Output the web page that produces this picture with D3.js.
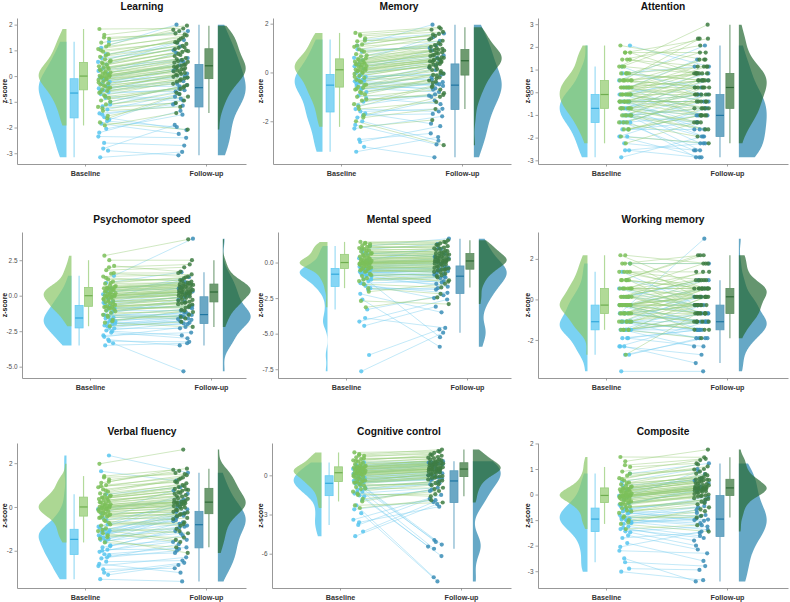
<!DOCTYPE html>
<html><head><meta charset="utf-8">
<script src="https://cdn.jsdelivr.net/npm/d3@7"></script>
<style>body{margin:0;background:#fff}svg{display:block}text{font-family:"Liberation Sans",Arial,Helvetica,sans-serif}</style>
</head><body><svg id="chart" width="790" height="602"></svg>
<script>
// ---------------- DATA (z-scores, paired per subject) ----------------
const timeLabels = ["Baseline", "Follow-up"];

const learningBlueBase = [-3.16,-2.9,-2.82,-2.35,-2.05,-1.85,-1.7,-1.6,-1.45,-1.3,-1.18,-1.0,-0.85,-0.7,-0.62,-0.55,-0.48,-0.4,-0.3,-0.22,-0.12,-0.05,0.1,0.3,0.55,0.85,1.1,1.33,
  -2.6,-2.2,-1.75,-1.5,-1.1,-0.78,-0.58,-0.35,-0.15,0.2,0.45,0.7];
const learningBlueFollow = [-2.95,-3.08,-1.9,-2.4,-1.5,-2.25,-0.8,-2.1,-1.15,-0.7,-1.05,-0.35,-0.95,-0.5,-0.6,0.1,-0.2,-0.4,0.3,-0.05,0.55,0.42,0.9,0.7,1.4,1.15,2.0,1.75,
  -2.7,-1.35,-1.98,-1.1,-0.55,-0.88,-0.3,0.2,0.0,0.6,1.3,1.0];
const learningGreenBase = [-1.92,-1.8,-1.55,-1.35,-1.2,-1.1,-0.95,-0.85,-0.75,-0.65,-0.58,-0.52,-0.45,-0.4,-0.33,-0.28,-0.2,-0.15,-0.1,-0.06,-0.02,-0.01,0.01,0.05,0.1,0.14,0.18,0.22,0.28,0.33,0.38,0.45,0.52,0.56,0.65,0.75,0.85,0.95,1.05,1.15,1.3,1.45,1.6,1.83,
  -1.65,-1.25,-1.0,-0.8,-0.62,-0.48,-0.36,-0.25,-0.12,-0.04,0.03,0.12,0.25,0.35,0.48,0.6,0.8,1.0,1.22,1.5];
const learningGreenFollow = [-1.44,-2.08,-0.95,-1.2,-0.65,-0.8,-0.4,-0.5,-0.22,-0.3,-0.09,-0.13,0.02,-0.03,0.12,0.08,0.22,0.18,0.31,0.27,0.39,0.36,0.46,0.41,0.58,0.52,0.7,0.63,0.86,0.78,1.0,0.94,1.1,1.05,1.25,1.18,1.4,1.32,1.58,1.5,1.75,1.66,1.96,1.85,
  -0.7,-1.05,-0.35,-0.45,-0.18,0.05,-0.06,0.25,0.15,0.33,0.55,0.44,0.82,0.66,0.97,1.12,1.45,1.3,1.8,1.62];

const memoryBlueBase = [-3.25,-3.05,-2.75,-2.3,-2.0,-1.85,-1.68,-1.6,-1.5,-1.2,-0.95,-0.8,-0.65,-0.55,-0.49,-0.42,-0.36,-0.3,-0.25,-0.18,-0.1,-0.02,0.15,0.35,0.6,0.85,1.1,1.35,
  -2.85,-2.15,-1.75,-1.35,-1.05,-0.7,-0.45,-0.33,-0.15,0.25,0.5,0.95];
const memoryBlueFollow = [-2.65,-3.48,-2.5,-1.8,-2.8,-1.15,-2.1,-1.49,-1.6,-0.9,-1.0,-0.4,-0.8,-0.65,-0.2,-0.55,-0.49,0.1,-0.3,-0.05,0.5,0.3,0.9,0.7,1.3,1.1,1.96,1.6,
  -2.2,-2.95,-1.7,-0.95,-1.3,-0.45,-0.7,0.2,-0.1,0.6,1.45,1.0];
const memoryGreenBase = [-2.23,-2.0,-1.75,-1.5,-1.3,-1.15,-1.0,-0.9,-0.8,-0.7,-0.63,-0.59,-0.5,-0.4,-0.3,-0.22,-0.14,-0.06,0.0,0.05,0.09,0.1,0.12,0.17,0.22,0.26,0.3,0.33,0.36,0.4,0.44,0.5,0.55,0.58,0.66,0.75,0.85,0.95,1.05,1.15,1.28,1.4,1.5,1.62,
  -1.85,-1.4,-1.1,-0.85,-0.68,-0.52,-0.35,-0.18,-0.02,0.07,0.15,0.24,0.34,0.42,0.52,0.7,0.9,1.1,1.3,1.55];
const memoryGreenFollow = [-1.95,-2.98,-1.0,-1.21,-0.55,-0.85,-0.7,-0.25,-0.42,-0.33,-0.02,-0.13,-0.1,0.2,0.06,0.14,0.32,0.26,0.42,0.37,0.49,0.46,0.47,0.58,0.53,0.67,0.62,0.77,0.72,0.88,0.82,0.93,0.92,1.05,0.97,1.2,1.12,1.4,1.3,1.58,1.5,1.75,1.66,1.85,
  -1.5,-0.6,-0.92,-0.2,-0.38,0.1,-0.05,0.35,0.24,0.44,0.6,0.52,0.8,0.7,0.9,1.15,1.0,1.55,1.35,1.8];

const attentionBlueBase = [-2.87,-2.56,-2.25,-1.95,-1.95,-1.64,-1.33,-1.33,-1.33,-1.02,-1.02,-1.02,-0.71,-0.71,-0.71,-0.71,-0.41,-0.41,-0.41,-0.10,-0.10,-0.10,0.21,0.21,0.52,0.83,1.13,2.06,
  -2.56,-1.95,-1.64,-1.33,-1.02,-1.02,-0.71,-0.41,-0.41,-0.10,0.21,0.83];
const attentionBlueFollow = [-1.95,-2.87,-2.56,-0.71,-2.25,-1.64,-2.87,-1.02,-0.41,-2.56,-1.33,-0.10,-1.95,-2.25,-1.02,0.52,-1.64,-0.10,-1.33,0.83,-0.71,-1.02,1.44,-0.41,2.06,0.21,-0.10,1.13,
  -2.25,-2.87,-1.33,-2.56,-0.71,-1.95,-0.10,-1.64,-0.41,0.52,-1.02,1.13];
const attentionGreenBase = [-2.25,-1.95,-1.64,-1.64,-1.33,-1.33,-1.02,-1.02,-1.02,-0.71,-0.71,-0.71,-0.71,-0.41,-0.41,-0.41,-0.41,-0.41,-0.10,-0.10,-0.10,-0.10,-0.10,-0.10,0.21,0.21,0.21,0.21,0.21,0.52,0.52,0.52,0.52,0.52,0.83,0.83,0.83,1.13,1.13,1.44,1.44,1.75,1.75,2.06,
  -1.64,-1.33,-1.02,-1.02,-0.71,-0.71,-0.41,-0.41,-0.41,-0.10,-0.10,0.21,0.21,0.21,0.52,0.52,0.83,1.13,1.44,1.75];
const attentionGreenFollow = [-1.33,-2.25,-0.71,-1.02,-1.95,-0.10,-1.64,-0.71,0.21,-1.33,-0.41,-1.02,0.52,-0.71,-0.10,0.83,-0.41,0.21,-1.02,0.21,0.52,-0.10,1.13,-0.71,0.83,0.21,-0.41,0.52,1.44,-0.10,0.83,0.21,2.36,0.83,1.13,0.52,1.75,0.83,2.98,1.13,2.06,0.83,2.36,1.44,
  -1.02,-0.41,-1.64,0.21,-1.33,-0.10,0.52,-1.02,-0.41,0.83,-0.71,0.52,-0.10,1.13,0.21,1.44,0.52,2.36,0.83,1.75];

const psychoBlueBase = [-3.5,-3.35,-3.1,-2.8,-2.6,-2.45,-2.3,-2.26,-2.1,-2.0,-1.9,-1.8,-1.7,-1.6,-1.54,-1.45,-1.35,-1.2,-1.05,-0.9,-0.72,-0.57,-0.4,-0.2,0.1,0.5,0.9,1.4,
  -3.2,-2.9,-2.5,-2.15,-1.95,-1.75,-1.4,-1.1,-0.85,-0.5,-0.1,0.3];
const psychoBlueFollow = [-3.35,-5.33,-3.5,-2.6,-3.0,-1.95,-2.3,-1.7,-2.0,-1.5,-1.8,-1.36,-1.6,-1.2,-1.42,-0.9,-1.3,-0.4,-1.05,-0.7,0.0,-0.1,0.6,0.3,1.3,0.95,1.66,4.02,
  -3.25,-2.2,-2.8,-1.65,-1.9,-1.15,-1.45,-0.3,-0.8,0.15,1.1,0.5];
const psychoGreenBase = [-2.15,-1.9,-1.7,-1.5,-1.35,-1.2,-1.05,-0.95,-0.88,-0.8,-0.77,-0.74,-0.65,-0.55,-0.45,-0.38,-0.3,-0.22,-0.15,-0.08,-0.03,-0.01,0.01,0.06,0.12,0.18,0.25,0.32,0.4,0.46,0.52,0.55,0.57,0.62,0.72,0.85,1.0,1.15,1.35,1.55,1.8,2.1,2.5,2.82,
  -1.8,-1.4,-1.1,-0.9,-0.78,-0.6,-0.42,-0.26,-0.12,-0.04,0.04,0.15,0.28,0.43,0.54,0.68,0.9,1.25,1.6,2.0];
const psychoGreenFollow = [-1.85,-2.2,-1.35,-1.6,-1.0,-1.15,-0.72,-0.85,-0.52,-0.6,-0.43,-0.46,-0.25,-0.35,-0.07,-0.15,0.06,0.0,0.17,0.12,0.25,0.22,0.32,0.27,0.44,0.38,0.56,0.5,0.68,0.62,0.79,0.74,0.85,0.81,1.0,0.92,1.22,1.1,1.5,1.35,2.0,1.7,2.5,3.97,
  -1.05,-1.5,-0.62,-0.8,-0.5,-0.1,-0.3,0.14,0.03,0.23,0.41,0.3,0.65,0.53,0.76,0.88,1.3,1.05,1.6,2.2];

const mentalBlueBase = [-7.65,-6.5,-4.45,-4.15,-3.3,-2.6,-1.8,-1.64,-1.45,-1.3,-1.15,-1.0,-0.9,-0.85,-0.79,-0.72,-0.65,-0.6,-0.55,-0.48,-0.44,-0.36,-0.2,0.0,0.3,0.6,0.9,1.17,
  -3.9,-2.2,-1.9,-1.5,-1.2,-0.95,-0.75,-0.62,-0.5,-0.3,0.15,0.7];
const mentalBlueFollow = [-4.93,-4.7,-3.1,-2.6,-2.3,-5.92,-1.9,-2.13,-1.3,-5.25,-1.5,-1.7,-0.8,-1.1,-0.92,-0.6,-1.0,-0.48,-0.7,-0.36,-0.28,-0.12,0.05,0.3,0.6,0.95,1.3,1.68,
  -4.6,-3.5,-1.8,-2.5,-1.05,-1.4,-0.55,-0.85,-0.4,-0.05,1.0,0.4];
const mentalGreenBase = [-3.15,-2.7,-2.05,-1.52,-1.3,-1.1,-0.95,-0.8,-0.65,-0.55,-0.45,-0.41,-0.35,-0.28,-0.22,-0.17,-0.12,-0.08,-0.05,-0.03,-0.02,-0.01,0.01,0.04,0.08,0.12,0.17,0.22,0.28,0.35,0.42,0.5,0.56,0.62,0.7,0.78,0.86,0.94,1.02,1.1,1.2,1.3,1.38,1.45,
  -1.8,-1.2,-0.88,-0.6,-0.48,-0.38,-0.25,-0.14,-0.07,-0.03,0.03,0.1,0.2,0.32,0.48,0.66,0.82,1.0,1.15,1.35];
const mentalGreenFollow = [-2.45,-2.92,-1.5,-1.75,-1.05,-1.25,-0.78,-0.9,-0.55,-0.65,-0.46,-0.49,-0.3,-0.38,-0.15,-0.22,-0.03,-0.08,0.06,0.02,0.1,0.09,0.15,0.12,0.25,0.2,0.35,0.3,0.46,0.4,0.58,0.52,0.66,0.62,0.8,0.72,0.96,0.88,1.15,1.05,1.35,1.25,1.56,1.45,
  -2.2,-0.95,-1.35,-0.52,-0.7,-0.26,-0.42,0.0,-0.12,0.08,0.22,0.14,0.44,0.33,0.56,0.84,0.7,1.2,1.0,1.4];

const workingBlueBase = [-3.55,-2.73,-2.32,-2.32,-1.91,-1.91,-1.50,-1.50,-1.50,-1.50,-1.10,-1.10,-1.10,-1.10,-1.10,-0.69,-0.69,-0.69,-0.28,-0.28,-0.28,-0.28,0.13,0.13,0.54,0.95,1.36,1.77,
  -2.73,-2.32,-1.91,-1.50,-1.50,-1.50,-1.10,-1.10,-0.69,-0.28,0.13,0.54];
const workingBlueFollow = [-3.55,-1.91,-3.14,-1.10,-2.32,-1.50,-1.10,-1.91,-0.28,-1.50,-1.91,-0.69,-1.10,0.13,-1.50,-1.10,3.0,-0.28,-1.10,-0.69,0.54,-1.10,-0.28,0.95,-0.69,0.13,-0.28,1.77,
  -1.91,-2.73,-1.50,-2.32,-1.10,-0.69,-1.50,0.13,-1.10,-1.50,0.95,-0.28];
const workingGreenBase = [-2.73,-1.50,-1.50,-1.50,-1.10,-1.10,-1.10,-1.10,-0.69,-0.69,-0.69,-0.69,-0.69,-0.28,-0.28,-0.28,-0.28,-0.28,-0.28,-0.28,-0.28,-0.28,-0.28,0.13,0.13,0.13,0.13,0.13,0.54,0.54,0.54,0.54,0.54,0.54,0.95,0.95,0.95,1.36,1.36,1.36,1.77,1.77,2.18,2.18,
  -1.50,-1.50,-1.10,-1.10,-0.69,-0.69,-0.69,-0.28,-0.28,-0.28,-0.28,0.13,0.13,0.13,0.54,0.54,0.95,0.95,1.36,1.77];
const workingGreenFollow = [-0.69,-1.10,0.13,-1.91,-0.69,-1.50,0.54,-0.28,0.13,-1.10,-0.69,0.54,-0.28,-1.50,0.13,0.54,-0.69,-0.28,0.95,-1.10,0.54,0.13,-0.28,0.54,0.95,-0.69,0.13,1.36,0.54,-0.28,0.54,1.77,0.13,0.95,0.54,2.18,-0.69,1.36,0.54,0.95,2.18,0.13,1.77,0.54,
  -0.69,-1.10,0.13,-1.50,-0.28,-1.10,0.54,-0.69,0.13,-0.28,0.54,-0.69,0.95,-0.28,1.36,0.13,0.54,2.18,0.54,1.77];

const verbalBlueBase = [-3.3,-3.1,-2.85,-2.7,-2.5,-2.35,-2.2,-2.16,-2.05,-1.95,-1.85,-1.75,-1.6,-1.5,-1.46,-1.4,-1.3,-1.22,-1.15,-1.08,-1.04,-0.96,-0.8,-0.5,-0.1,0.58,1.63,2.35,
  -3.0,-2.6,-2.3,-2.0,-1.8,-1.55,-1.35,-1.18,-1.05,-0.9,-0.6,-0.3];
const verbalBlueFollow = [-3.4,-2.65,-2.8,-2.3,-2.45,-1.7,-2.1,-1.85,-1.3,-1.92,-1.1,-1.5,-0.7,-0.95,-0.5,-0.85,-0.3,-0.77,-0.6,-0.11,-0.4,0.1,-0.23,0.6,0.35,0.9,1.2,1.56,
  -2.55,-3.0,-2.0,-1.6,-0.9,-1.2,-0.45,-0.65,-0.28,0.25,0.0,0.75];
const verbalGreenBase = [-1.62,-1.45,-1.3,-1.2,-1.1,-0.98,-0.85,-0.72,-0.6,-0.5,-0.44,-0.41,-0.35,-0.3,-0.25,-0.2,-0.16,-0.12,-0.08,-0.05,-0.02,-0.01,0.01,0.04,0.08,0.12,0.16,0.2,0.25,0.3,0.36,0.41,0.44,0.48,0.55,0.62,0.7,0.8,0.9,1.0,1.1,1.25,1.41,1.97,
  -1.38,-1.05,-0.8,-0.65,-0.48,-0.38,-0.28,-0.18,-0.1,-0.03,0.03,0.1,0.22,0.33,0.42,0.52,0.75,0.95,1.15,1.35];
const verbalGreenFollow = [-1.84,-2.1,-1.4,-1.6,-1.0,-1.2,-0.7,-0.85,-0.42,-0.55,-0.3,-0.33,-0.15,-0.22,-0.02,-0.08,0.09,0.04,0.17,0.13,0.21,0.2,0.27,0.23,0.4,0.33,0.54,0.47,0.67,0.6,0.8,0.74,0.91,0.83,1.08,1.0,1.25,1.16,1.45,1.35,1.65,1.55,1.75,2.62,
  -1.1,-1.5,-0.5,-0.78,-0.36,-0.12,-0.25,0.1,0.0,0.19,0.37,0.25,0.64,0.5,0.78,0.95,1.3,1.12,1.7,1.5];

const controlBlueBase = [-4.66,-4.3,-3.8,-3.4,-2.9,-2.3,-1.6,-1.54,-1.4,-1.25,-1.1,-0.95,-0.8,-0.65,-0.57,-0.5,-0.42,-0.35,-0.27,-0.18,-0.06,0.06,0.2,0.35,0.5,0.65,0.8,0.99,
  -3.6,-2.6,-1.9,-1.3,-1.0,-0.72,-0.55,-0.3,-0.12,0.12,0.42,0.72];
const controlBlueFollow = [-2.2,-2.05,-1.8,-1.5,-8.12,-7.8,-1.2,-6.18,-0.95,-5.62,-0.7,-5.3,-0.5,-4.95,-0.36,-0.25,-0.15,-0.05,0.05,0.15,0.3,0.7,0.8,0.85,0.9,0.95,1.0,1.08,
  -2.4,-1.9,-1.1,-5.45,-0.6,-5.1,-0.3,0.0,0.25,0.5,0.75,0.98];
const controlGreenBase = [-2.5,-2.3,-1.8,-1.5,-1.25,-1.05,-0.9,-0.78,-0.66,-0.56,-0.5,-0.47,-0.38,-0.28,-0.2,-0.12,-0.05,0.02,0.08,0.12,0.16,0.19,0.21,0.25,0.3,0.35,0.4,0.45,0.5,0.55,0.6,0.63,0.64,0.68,0.75,0.85,0.95,1.05,1.15,1.25,1.38,1.5,1.62,1.75,
  -2.0,-1.4,-1.0,-0.72,-0.55,-0.42,-0.25,-0.08,0.05,0.15,0.23,0.33,0.43,0.52,0.6,0.72,0.9,1.1,1.3,1.55];
const controlGreenFollow = [-1.9,-2.08,-1.2,-1.44,-0.75,-0.95,-0.45,-0.6,-0.2,-0.32,-0.09,-0.12,0.08,0.0,0.22,0.15,0.33,0.28,0.42,0.38,0.47,0.46,0.53,0.49,0.63,0.58,0.73,0.68,0.84,0.78,0.94,0.9,1.0,0.95,1.15,1.08,1.3,1.22,1.5,1.4,1.72,1.6,1.97,1.85,
  -1.05,-1.6,-0.4,-0.7,-0.18,0.1,-0.05,0.35,0.25,0.44,0.62,0.52,0.82,0.72,0.92,1.2,1.05,1.55,1.35,1.8];

const compositeBlueBase = [-3.02,-2.9,-2.5,-2.2,-1.9,-1.7,-1.48,-1.44,-1.35,-1.25,-1.15,-1.08,-1.02,-0.98,-0.94,-0.88,-0.8,-0.74,-0.66,-0.6,-0.55,-0.47,-0.35,-0.2,-0.05,0.2,0.5,0.82,
  -2.65,-2.05,-1.6,-1.3,-1.12,-1.0,-0.9,-0.7,-0.58,-0.4,-0.1,0.35];
const compositeBlueFollow = [-3.35,-2.95,-3.4,-2.3,-2.6,-1.5,-2.0,-1.25,-1.7,-1.62,-0.94,-1.38,-1.03,-1.12,-0.6,-0.98,-0.45,-0.85,-0.72,-0.1,-0.3,0.3,0.14,0.45,0.8,0.62,1.0,1.22,
  -2.8,-1.45,-2.15,-1.8,-0.8,-1.2,-0.5,-1.0,-0.2,0.2,0.9,0.55];
const compositeGreenBase = [-1.35,-1.15,-1.0,-0.85,-0.72,-0.62,-0.54,-0.47,-0.41,-0.36,-0.33,-0.31,-0.27,-0.22,-0.18,-0.15,-0.12,-0.09,-0.07,-0.06,-0.05,-0.04,-0.03,-0.01,0.02,0.05,0.08,0.11,0.14,0.17,0.2,0.23,0.25,0.29,0.34,0.4,0.47,0.55,0.64,0.74,0.9,1.08,1.3,1.47,
  -1.08,-0.9,-0.66,-0.5,-0.38,-0.29,-0.2,-0.13,-0.08,-0.05,-0.02,0.06,0.12,0.18,0.24,0.32,0.45,0.6,0.82,1.15];
const compositeGreenFollow = [-1.2,-1.45,-0.65,-0.83,-0.38,-0.5,-0.2,-0.28,-0.08,-0.14,-0.03,-0.05,0.06,0.02,0.13,0.1,0.19,0.16,0.23,0.21,0.255,0.25,0.28,0.265,0.34,0.31,0.41,0.37,0.5,0.45,0.58,0.55,0.62,0.59,0.75,0.68,0.9,0.82,1.1,1.0,1.35,1.22,1.76,1.46,
  -0.58,-0.9,-0.17,-0.33,-0.06,0.08,0.0,0.2,0.15,0.24,0.36,0.29,0.5,0.43,0.57,0.8,0.65,1.18,0.98,1.4];

const titles = ["Learning","Memory","Attention","Psychomotor speed","Mental speed","Working memory","Verbal fluency","Cognitive control","Composite"];
const tickSets = [[-3,-2,-1,0,1,2],[-2,0,2],[-3,-2,-1,0,1,2,3],[-5,-2.5,0,2.5],[-7.5,-5,-2.5,0],[-2,0,2],[-2,0,2],[-6,-3,0],[-3,-2,-1,0,1,2]];
const tickDecimals = [0,0,0,1,1,0,0,0,0];
const blueBase = [learningBlueBase,memoryBlueBase,attentionBlueBase,psychoBlueBase,mentalBlueBase,workingBlueBase,verbalBlueBase,controlBlueBase,compositeBlueBase];
const blueFollow = [learningBlueFollow,memoryBlueFollow,attentionBlueFollow,psychoBlueFollow,mentalBlueFollow,workingBlueFollow,verbalBlueFollow,controlBlueFollow,compositeBlueFollow];
const greenBase = [learningGreenBase,memoryGreenBase,attentionGreenBase,psychoGreenBase,mentalGreenBase,workingGreenBase,verbalGreenBase,controlGreenBase,compositeGreenBase];
const greenFollow = [learningGreenFollow,memoryGreenFollow,attentionGreenFollow,psychoGreenFollow,mentalGreenFollow,workingGreenFollow,verbalGreenFollow,controlGreenFollow,compositeGreenFollow];

// ---------------- LAYOUT ----------------
const LEFTS = [[17,273,538],[22,278,538],[17,272,538]];
const RIGHTS = [246,511,788];
const TOPS = [18,232,443], BOTTOMS = [164,378,588];
const TITLE_X = [142,399,663], TITLE_Y = [10,223,435];
const YTITLE_X = [5,261,528];
const PX_PER_UNIT = 121;

const COL = {
  bb: {violin:"#47C1EE", line:"#7ACFF0", point:"#58C6EE", box:"#86D6F5", boxStroke:"#66CCF2", med:"#32A9DC", whisk:"#9CDCF4"},
  gb: {violin:"#8CC76A", line:"#97CB77", point:"#7BBF59", box:"#B1DA97", boxStroke:"#98CD7C", med:"#6FAE4F", whisk:"#B3DA9B"},
  bf: {violin:"#2B86B0", line:"#7ACFF0", point:"#3A8DB6", box:"#6BA8C5", boxStroke:"#5A9BBB", med:"#1F76A2", whisk:"#7FB3CD"},
  gf: {violin:"#2A6C38", line:"#97CB77", point:"#3E7C43", box:"#6E9B70", boxStroke:"#5D8D60", med:"#2D6835", whisk:"#7FA581"}
};

const svg = d3.select("#chart");

function kde(values, n) {
  const v = values.slice().sort(d3.ascending);
  const sd = d3.deviation(v);
  const iqr = d3.quantile(v,0.75) - d3.quantile(v,0.25);
  const s = Math.min(sd, iqr > 0 ? iqr/1.34 : sd);
  const h = 0.9 * s * Math.pow(v.length, -0.2);
  const lo = v[0], hi = v[v.length-1];
  const out = [];
  for (let i = 0; i <= n; i++) {
    const t = lo + (hi - lo) * i / n;
    let acc = 0;
    for (const xv of v) { const z = (t - xv) / h; acc += Math.exp(-0.5*z*z); }
    out.push([t, acc]);
  }
  const m = d3.max(out, d => d[1]);
  return out.map(d => [d[0], d[1]/m]);
}

function boxStats(values) {
  const v = values.slice().sort(d3.ascending);
  const q1 = d3.quantile(v,0.25), med = d3.quantile(v,0.5), q3 = d3.quantile(v,0.75);
  const iqr = q3 - q1;
  const lo = d3.min(v.filter(d => d >= q1 - 1.5*iqr));
  const hi = d3.max(v.filter(d => d <= q3 + 1.5*iqr));
  return {q1, med, q3, lo, hi};
}

function drawPanel(i) {
  const r = Math.floor(i/3), c = i % 3;
  const left = LEFTS[r][c], right = RIGHTS[c], top = TOPS[r], bottom = BOTTOMS[r];
  const bb = blueBase[i], bf = blueFollow[i], gb = greenBase[i], gf = greenFollow[i];
  const ext = d3.extent([...bb, ...bf, ...gb, ...gf]);
  const pad = (ext[1]-ext[0]) * 0.05;
  const y = d3.scaleLinear().domain([ext[0]-pad, ext[1]+pad]).range([bottom, top]);
  const x1 = left + 68;
  const x = d3.scaleLinear().domain([1,2]).range([x1, x1 + PX_PER_UNIT]);
  const xa = d3.scaleLinear().domain([x.invert(left), x.invert(right)]).range([left, right]);
  const g = svg.append("g");

  // half violins
  const VW = 0.23;
  function violin(vals, base, dir, col) {
    const d = kde(vals, 160);
    const area = d3.area().y(p => y(p[0])).x0(x(base)).x1(p => x(base + dir*VW*p[1]));
    g.append("path").attr("d", area(d)).attr("fill", col).attr("fill-opacity", 0.72);
  }
  violin(bb, 0.847, -1, COL.bb.violin);
  violin(gb, 0.847, -1, COL.gb.violin);
  violin(bf, 2.098, 1, COL.bf.violin);
  violin(gf, 2.098, 1, COL.gf.violin);

  // paired lines and points
  const jit = (k, a, b) => ((k * a + b) % 1);
  function group(base, follow, cb, seed) {
    const pts = base.map((v, k) => ({
      xb: x(1.108 + 0.105 * jit(k, 0.6180339, seed)),
      xf: x(1.728 + 0.125 * jit(k, 0.7548776, seed*1.7 + 0.31)),
      yb: y(v), yf: y(follow[k])
    }));
    g.append("g").selectAll("line").data(pts).join("line")
      .attr("x1", p => p.xb).attr("y1", p => p.yb).attr("x2", p => p.xf).attr("y2", p => p.yf)
      .attr("stroke", cb.line).attr("stroke-opacity", 0.5).attr("stroke-width", 0.9);
    return pts;
  }
  const bp = group(bb, bf, COL.bb, 0.17);
  const gp = group(gb, gf, COL.gb, 0.53);
  function points(pts, key, col) {
    g.append("g").selectAll("circle").data(pts).join("circle")
      .attr("cx", p => p["x"+key]).attr("cy", p => p["y"+key]).attr("r", 2.1)
      .attr("fill", col).attr("fill-opacity", 0.85);
  }
  points(bp, "b", COL.bb.point); points(gp, "b", COL.gb.point);
  points(bp, "f", COL.bf.point); points(gp, "f", COL.gf.point);

  // boxplots
  const BW = 0.066;
  function box(vals, center, col) {
    const s = boxStats(vals);
    const cx = x(center), hw = (x(center + BW/2) - x(center - BW/2)) / 2;
    g.append("line").attr("x1", cx).attr("x2", cx).attr("y1", y(s.hi)).attr("y2", y(s.q3))
      .attr("stroke", col.whisk).attr("stroke-width", 1.2);
    g.append("line").attr("x1", cx).attr("x2", cx).attr("y1", y(s.q1)).attr("y2", y(s.lo))
      .attr("stroke", col.whisk).attr("stroke-width", 1.2);
    g.append("rect").attr("x", cx - hw).attr("width", 2*hw).attr("y", y(s.q3)).attr("height", y(s.q1) - y(s.q3))
      .attr("fill", col.box).attr("stroke", col.boxStroke).attr("stroke-width", 0.8);
    g.append("line").attr("x1", cx - hw).attr("x2", cx + hw).attr("y1", y(s.med)).attr("y2", y(s.med))
      .attr("stroke", col.med).attr("stroke-width", 1.2);
  }
  box(bb, 0.91, COL.bb); box(gb, 0.988, COL.gb);
  box(bf, 1.942, COL.bf); box(gf, 2.024, COL.gf);

  // axes
  const fmt = v => v.toFixed(tickDecimals[i]);
  const ya = g.append("g").attr("transform", `translate(${left},0)`)
    .call(d3.axisLeft(y).tickValues(tickSets[i]).tickFormat(fmt).tickSize(2.5).tickSizeOuter(0).tickPadding(2));
  const xaG = g.append("g").attr("transform", `translate(0,${bottom})`)
    .call(d3.axisBottom(xa).tickValues([1,2]).tickFormat(d => timeLabels[d-1]).tickSize(2.5).tickSizeOuter(0).tickPadding(4));
  [ya, xaG].forEach(a => {
    a.select(".domain").attr("stroke", "#8c8c8c").attr("stroke-width", 0.9);
    a.selectAll(".tick line").attr("stroke", "#8c8c8c").attr("stroke-width", 0.8);
  });
  ya.selectAll(".tick text").attr("font-size", 6.4).attr("fill", "#4d4d4d").attr("font-family", "Liberation Sans, Arial, sans-serif");
  xaG.selectAll(".tick text").attr("font-size", 7.2).attr("font-weight", "bold").attr("fill", "#333").attr("font-family", "Liberation Sans, Arial, sans-serif");

  // titles
  svg.append("text").attr("x", TITLE_X[c]).attr("y", TITLE_Y[r]).attr("text-anchor", "middle")
    .attr("font-size", 10.2).attr("font-weight", "bold").attr("fill", "#111").text(titles[i]);
  svg.append("text").attr("transform", `translate(${YTITLE_X[c]},${(top+bottom)/2}) rotate(-90)`)
    .attr("text-anchor", "middle").attr("dy", "0.35em").attr("font-size", 7).attr("font-weight", "bold").attr("fill", "#111").text("z-score");
}

for (let i = 0; i < 9; i++) drawPanel(i);
</script>
</body></html>
